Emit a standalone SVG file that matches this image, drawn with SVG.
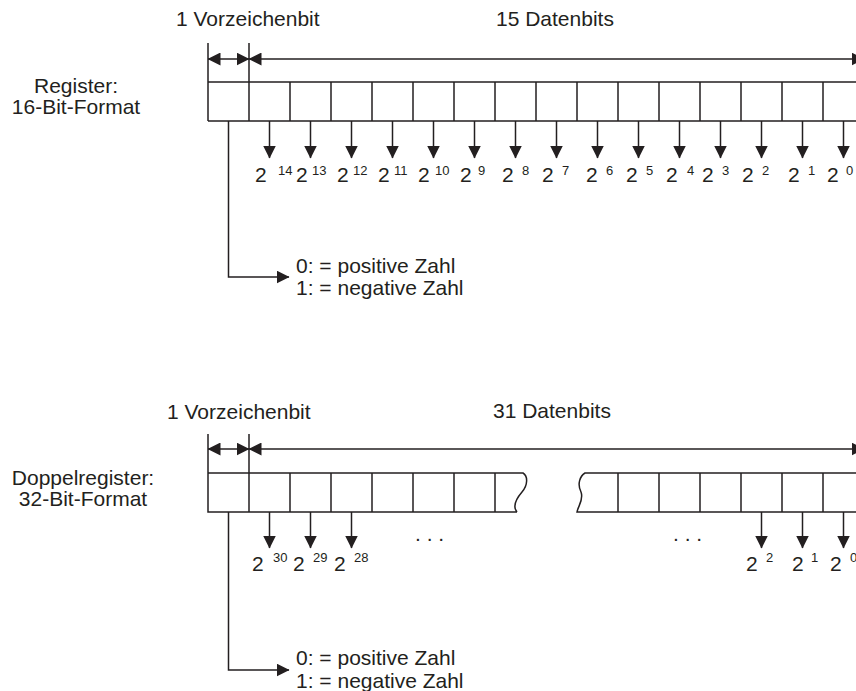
<svg xmlns="http://www.w3.org/2000/svg" width="856" height="691" viewBox="0 0 856 691">
<style>
  .ln{stroke:#231f20;stroke-width:1.5;fill:none}
  .t{font-family:"Liberation Sans",Arial,Helvetica,sans-serif;font-size:21px;fill:#231f20}
  .c{text-anchor:middle}
  .s{font-family:"Liberation Sans",Arial,Helvetica,sans-serif;font-size:13px;fill:#231f20}
  .a{marker-end:url(#ah)}
  .aa{marker-start:url(#ah);marker-end:url(#ah)}
</style>
<defs>
  <marker id="ah" markerUnits="userSpaceOnUse" markerWidth="13" markerHeight="13" refX="12.5" refY="6.5" orient="auto-start-reverse" viewBox="0 0 13 13">
    <path d="M0,0 L13,6.5 L0,13 z" fill="#231f20"/>
  </marker>
</defs>
<rect width="856" height="691" fill="#ffffff"/>

<!-- ===== 16-bit register ===== -->
<g id="reg16-label">
  <text class="t c" x="76" y="93">Register:</text>
  <text class="t c" x="76" y="114">16-Bit-Format</text>
</g>
<g id="reg16-headers">
  <text class="t" x="176" y="26">1 Vorzeichenbit</text>
  <text class="t" x="496" y="26">15 Datenbits</text>
</g>
<g id="reg16-cells" class="ln">
  <path d="M208 82 H856 M208 121 H856"/>
  <path d="M208 43 V121 M249 43 V121 M290 82 V121 M331 82 V121 M372 82 V121 M413 82 V121 M454 82 V121 M495 82 V121 M536 82 V121 M577 82 V121 M618 82 V121 M659 82 V121 M700 82 V121 M741 82 V121 M782 82 V121 M823 82 V121"/>
</g>
<g id="reg16-weights">
  <text class="t" x="255" y="182">2</text><text class="s" x="278" y="175">14</text>
  <text class="t" x="296" y="182">2</text><text class="s" x="312" y="175">13</text>
  <text class="t" x="337" y="182">2</text><text class="s" x="353" y="175">12</text>
  <text class="t" x="378" y="182">2</text><text class="s" x="394" y="175">11</text>
  <text class="t" x="418" y="182">2</text><text class="s" x="435" y="175">10</text>
  <text class="t" x="460" y="182">2</text><text class="s" x="478" y="175">9</text>
  <text class="t" x="502" y="182">2</text><text class="s" x="522" y="175">8</text>
  <text class="t" x="542" y="182">2</text><text class="s" x="562" y="175">7</text>
  <text class="t" x="586" y="182">2</text><text class="s" x="606" y="175">6</text>
  <text class="t" x="626" y="182">2</text><text class="s" x="646" y="175">5</text>
  <text class="t" x="666" y="182">2</text><text class="s" x="687" y="175">4</text>
  <text class="t" x="702" y="182">2</text><text class="s" x="722" y="175">3</text>
  <text class="t" x="742" y="182">2</text><text class="s" x="762" y="175">2</text>
  <text class="t" x="788" y="182">2</text><text class="s" x="808" y="175">1</text>
  <text class="t" x="827" y="182">2</text><text class="s" x="846" y="175">0</text>
</g>
<g id="reg16-sign-legend">
  <text class="t" x="296" y="273">0: = positive Zahl</text>
  <text class="t" x="296" y="295">1: = negative Zahl</text>
</g>

<!-- ===== 32-bit double register ===== -->
<g id="reg32-label">
  <text class="t c" x="83" y="485">Doppelregister:</text>
  <text class="t c" x="83" y="506">32-Bit-Format</text>
</g>
<g id="reg32-headers">
  <text class="t" x="167" y="419">1 Vorzeichenbit</text>
  <text class="t" x="493" y="418">31 Datenbits</text>
</g>
<g id="reg32-cells" class="ln">
  <path d="M517 512 H208 V434 M208 473 H523 C528 476 528 485 522 492 C516 499 512 506 517 512"/>
  <path d="M249 434 V512 M290 473 V512 M331 473 V512 M372 473 V512 M413 473 V512 M454 473 V512 M495 473 V512"/>
  <path d="M856 473 H585 C580 476 577 484 581 492 C584 500 578 506 577 512 H856"/>
  <path d="M618 473 V512 M659 473 V512 M700 473 V512 M741 473 V512 M782 473 V512 M823 473 V512"/>
</g>
<g id="reg32-weights">
  <text class="t" x="252" y="571">2</text><text class="s" x="273" y="562">30</text>
  <text class="t" x="293" y="571">2</text><text class="s" x="313" y="562">29</text>
  <text class="t" x="334" y="571">2</text><text class="s" x="354" y="562">28</text>
  <text class="t" x="415" y="541">. . .</text>
  <text class="t" x="673" y="541">. . .</text>
  <text class="t" x="746" y="571">2</text><text class="s" x="766" y="562">2</text>
  <text class="t" x="792" y="571">2</text><text class="s" x="811" y="562">1</text>
  <text class="t" x="830" y="571">2</text><text class="s" x="850" y="562">0</text>
</g>
<g id="reg32-sign-legend">
  <text class="t" x="296" y="665">0: = positive Zahl</text>
  <text class="t" x="296" y="688">1: = negative Zahl</text>
</g>

<!-- ===== connectors ===== -->
<g id="connectors" class="ln">
  <line class="aa" x1="208" y1="59" x2="249" y2="59"/>
  <line class="aa" x1="249" y1="59" x2="864" y2="59"/>
  <line class="a" x1="269.5" y1="121" x2="269.5" y2="158"/>
  <line class="a" x1="310.5" y1="121" x2="310.5" y2="158"/>
  <line class="a" x1="351.5" y1="121" x2="351.5" y2="158"/>
  <line class="a" x1="392.5" y1="121" x2="392.5" y2="158"/>
  <line class="a" x1="433.5" y1="121" x2="433.5" y2="158"/>
  <line class="a" x1="474.5" y1="121" x2="474.5" y2="158"/>
  <line class="a" x1="515.5" y1="121" x2="515.5" y2="158"/>
  <line class="a" x1="556.5" y1="121" x2="556.5" y2="158"/>
  <line class="a" x1="597.5" y1="121" x2="597.5" y2="158"/>
  <line class="a" x1="638.5" y1="121" x2="638.5" y2="158"/>
  <line class="a" x1="679.5" y1="121" x2="679.5" y2="158"/>
  <line class="a" x1="720.5" y1="121" x2="720.5" y2="158"/>
  <line class="a" x1="761.5" y1="121" x2="761.5" y2="158"/>
  <line class="a" x1="802.5" y1="121" x2="802.5" y2="158"/>
  <line class="a" x1="843.5" y1="121" x2="843.5" y2="158"/>
  <path class="a" d="M228.5 121 V277 H289"/>
  <line class="aa" x1="208" y1="449" x2="249" y2="449"/>
  <line class="aa" x1="249" y1="449" x2="864" y2="449"/>
  <line class="a" x1="269.5" y1="512" x2="269.5" y2="548"/>
  <line class="a" x1="310.5" y1="512" x2="310.5" y2="548"/>
  <line class="a" x1="351.5" y1="512" x2="351.5" y2="548"/>
  <line class="a" x1="761.5" y1="512" x2="761.5" y2="548"/>
  <line class="a" x1="802.5" y1="512" x2="802.5" y2="548"/>
  <line class="a" x1="843.5" y1="512" x2="843.5" y2="548"/>
  <path class="a" d="M228.5 512 V670 H289"/>
</g>
</svg>
